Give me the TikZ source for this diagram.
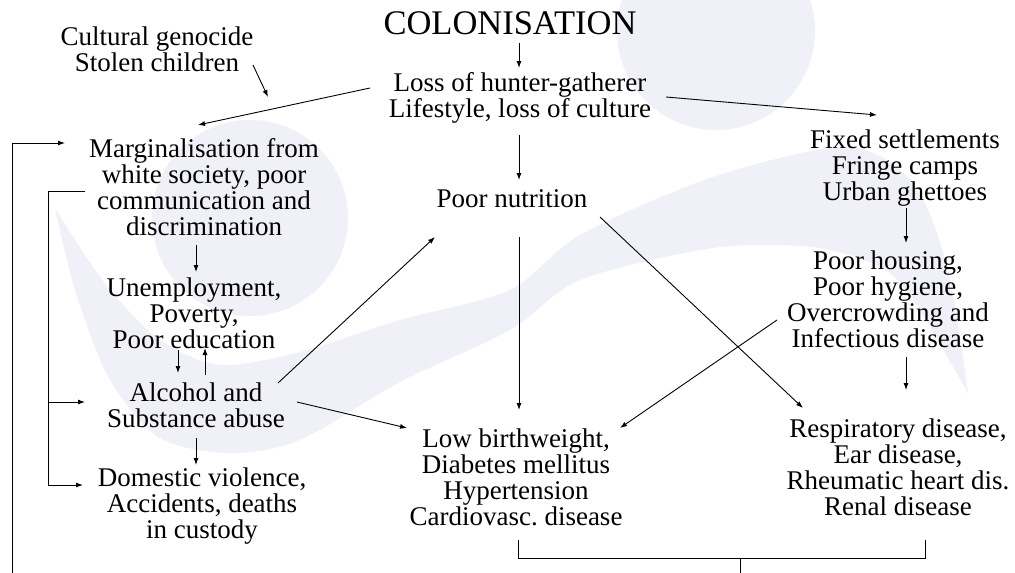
\documentclass[tikz,border=0pt]{standalone}
\usepackage{fontspec}
\setmainfont{Liberation Serif}
\usetikzlibrary{arrows.meta}
\frenchspacing

\definecolor{wmark}{RGB}{240,240,248}
\newcommand\bodyfont{\fontsize{27}{26}\selectfont}
\newcommand\headfont{\fontsize{34.5}{40}\selectfont}

\begin{document}
\begin{tikzpicture}[x=1pt,y=-1pt,
	txt/.style={align=center,anchor=base,inner sep=0pt,font=\bodyfont},
	arr/.style={-{Latex[length=7pt,width=5pt]},line width=0.9pt},
	link/.style={line width=1pt}]
	\useasboundingbox[fill=white] (0,0) rectangle (1015,573);

	% watermark in the background
	\fill[wmark] (716,31) circle[radius=99];
	\fill[wmark] (250,218) circle[radius=98];
	\fill[wmark] plot[smooth] coordinates {(55,208) (75,290) (110,380) (160,438) (230,453)
		(300,440) (400,382) (510,330) (580,280) (713,248) (813,247) (880,267) (913,300) (968,393)}
		-- plot[smooth] coordinates {(968,393) (947,267) (913,183) (847,147) (713,177) (580,235)
		(510,290) (400,320) (300,352) (220,365) (160,340) (110,290) (75,240) (55,208)} -- cycle;

	% texts (placed at the baseline of their last line)
	\node[txt,font=\headfont] (title) at (510,34) {COLONISATION};
	\node[txt] (stolen) at (157,71) {Cultural genocide\\Stolen children};
	\node[txt] (loss) at (520,117) {Loss of hunter-gatherer\\Lifestyle, loss of culture};
	\node[txt] (marg) at (204,235) {Marginalisation from\\white society, poor\\communication and\\discrimination};
	\node[txt] (unemp) at (194,348) {Unemployment,\\Poverty,\\Poor education};
	\node[txt] (alcohol) at (196,427) {Alcohol and\\Substance abuse};
	\node[txt] (violence) at (202,538) {Domestic violence,\\Accidents, deaths\\in custody};
	\node[txt] (nutrition) at (512,207) {Poor nutrition};
	\node[txt] (fixed) at (905,200) {Fixed settlements\\Fringe camps\\Urban ghettoes};
	\node[txt] (housing) at (888,347) {Poor housing,\\Poor hygiene,\\Overcrowding and\\Infectious disease};
	\node[txt] (lowbw) at (516,525) {Low birthweight,\\Diabetes mellitus\\Hypertension\\Cardiovasc. disease};
	\node[txt] (resp) at (898,515) {Respiratory disease,\\Ear disease,\\Rheumatic heart dis.\\Renal disease};

	% free ends
	\coordinate (impact) at (268,97);
	\coordinate (stem) at (740,573);
	\coordinate (loopin) at (12,573);

	% arrows
	\draw[arr] ([shift={(9,9)}]title.base) -- ([shift={(-1,-49)}]loss.base);
	\draw[arr] ([shift={(96,-6)}]stolen.base) -- (impact);
	\draw[arr] ([shift={(-150,-29)}]loss.base) -- ([shift={(-6,-110)}]marg.base);
	\draw[arr] ([shift={(146,-20)}]loss.base) -- ([shift={(-28,-85)}]fixed.base);
	\draw[arr] ([shift={(-1,18)}]loss.base) -- ([shift={(7,-27)}]nutrition.base);
	\draw[arr] ([shift={(-8,10)}]marg.base) -- ([shift={(2,-76)}]unemp.base);
	\draw[arr] ([shift={(-16,2)}]unemp.base) -- ([shift={(-18,-54)}]alcohol.base);
	\draw[arr] ([shift={(9,-52)}]alcohol.base) -- ([shift={(11,0)}]unemp.base);
	\draw[arr] ([shift={(0,11)}]alcohol.base) -- ([shift={(-6,-73)}]violence.base);
	\draw[arr] ([shift={(82,-44)}]alcohol.base) -- ([shift={(-77,30)}]nutrition.base);
	\draw[arr] ([shift={(101,-25)}]alcohol.base) -- ([shift={(-109,-97)}]lowbw.base);
	\draw[arr] ([shift={(7,30)}]nutrition.base) -- ([shift={(3,-115)}]lowbw.base);
	\draw[arr] ([shift={(88,10)}]nutrition.base) -- ([shift={(-95,-107)}]resp.base);
	\draw[arr] ([shift={(-111,-27)}]housing.base) -- ([shift={(104,-97)}]lowbw.base);
	\draw[arr] ([shift={(1,8)}]fixed.base) -- ([shift={(18,-104)}]housing.base);
	\draw[arr] ([shift={(18,10)}]housing.base) -- ([shift={(8,-125)}]resp.base);

	% brackets on the left
	\draw[arr] (loopin) |- ([shift={(-139,-92)}]marg.base);
	\draw[link] ([shift={(-119,-44)}]marg.base) -- ++(-37,0) coordinate (inner);
	\foreach \n/\dx/\dy in {alcohol/-111/-25,violence/-119/-53}
		\draw[arr] (inner) |- ([shift={(\dx,\dy)}]\n.base);

	% bracket at the bottom
	\draw[link] ([shift={(2,15)}]lowbw.base) -- ++(0,18) coordinate (bl) -| ([shift={(27,25)}]resp.base);
	\draw[link] (bl -| stem) -- (stem);
\end{tikzpicture}
\end{document}
